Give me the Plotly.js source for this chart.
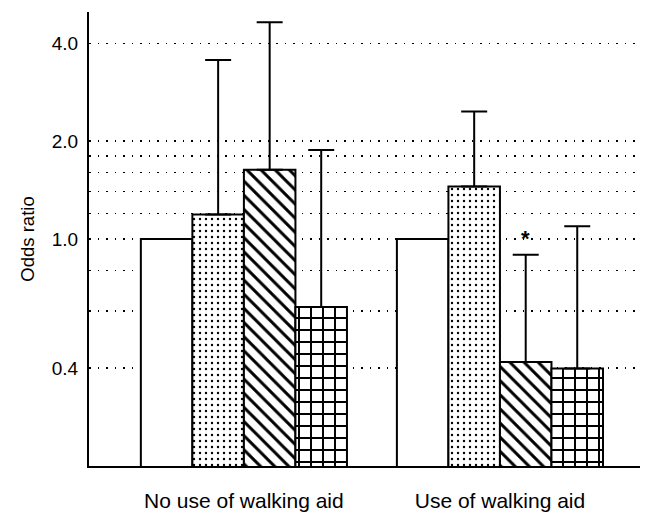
<!DOCTYPE html>
<html><head><meta charset="utf-8">
<script src="https://cdn.plot.ly/plotly-3.0.1.min.js"></script>
<style>html,body{margin:0;padding:0;background:#fff}#chart{width:645px;height:512px}</style>
</head><body><div id="chart"></div>
<script>
const groups = ['No use of walking aid', 'Use of walking aid'];
const refValues = [1.0, 1.0];
const dotValues = [1.19, 1.45];
const dotUpper = [3.56, 2.47];
const diagValues = [1.635, 0.418];
const diagUpper = [4.65, 0.895];
const gridValues = [0.618, 0.399];
const gridUpper = [1.88, 1.094];
const tickVals = [0.4, 0.6, 0.8, 1.0, 1.2, 1.4, 1.6, 1.8, 2.0, 4.0];
const tickText = ['0.4', '', '', '1.0', '', '', '', '', '2.0', '4.0'];
const starGroup = 1, starSeries = 2;

const bargap = 0.195;
function errs(vals, up){ return up.map((u,i)=> u - vals[i]); }
const lineStyle = {color:'#000', width:2};
function bar(vals, upper, pattern){
  const t = {type:'bar', x:groups, y:vals,
    marker:{color:'#fff', line:lineStyle},
    hoverinfo:'skip'};
  if (pattern) t.marker.pattern = Object.assign({fgcolor:'#000', bgcolor:'#fff', fillmode:'overlay', fgopacity:1}, pattern);
  if (upper) t.error_y = {type:'data', symmetric:false, array:errs(vals, upper), arrayminus:vals.map(()=>0), color:'#000', thickness:2, width:13};
  return t;
}
const data = [
  bar(refValues, null, null),
  bar(dotValues, dotUpper, {shape:'.', size:6, solidity:0.12}),
  bar(diagValues, diagUpper, {shape:'\\', size:10, solidity:0.3}),
  bar(gridValues, gridUpper, {shape:'+', size:12, solidity:0.3})
];
const nSeries = 4;
const bw = (1 - bargap) / nSeries;
const starX = starGroup - (1 - bargap)/2 + (starSeries + 0.5) * bw;

const layout = {
  width:645, height:512,
  margin:{l:89, r:5, t:12, b:46},
  paper_bgcolor:'#fff', plot_bgcolor:'#fff',
  showlegend:false,
  barmode:'group', bargap:bargap, bargroupgap:0,
  font:{family:'Liberation Sans, Arial, sans-serif', color:'#000', size:19},
  xaxis:{type:'category', range:[-0.605, 1.547], showline:true, linecolor:'#000', linewidth:2,
    ticks:'', showgrid:false, zeroline:false, ticklabelstandoff:15, tickfont:{size:21}},
  yaxis:{type:'log', range:[Math.log10(0.2), Math.log10(5)], showline:true, linecolor:'#000', linewidth:2,
    tickmode:'array', tickvals:tickVals, ticktext:tickText, ticks:'',
    showgrid:true, gridcolor:'#000', gridwidth:1.5, griddash:'1.5px,7px',
    zeroline:false, tickfont:{size:19}, ticklabelstandoff:5,
    title:{text:'Odds ratio', font:{size:18.5}, standoff:12}},
  annotations:[{x:starX, y:Math.log10(diagUpper[starGroup]), xref:'x', yref:'y',
    text:'<b>*</b>', showarrow:false, yanchor:'middle', yshift:16, font:{size:22}}]
};
Plotly.newPlot('chart', data, layout, {staticPlot:true});
</script></body></html>
